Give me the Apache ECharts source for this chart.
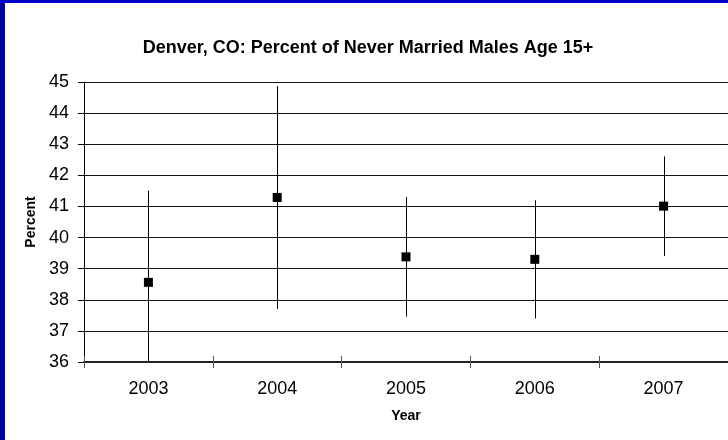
<!DOCTYPE html>
<html>
<head>
<meta charset="utf-8">
<script src="https://cdn.jsdelivr.net/npm/echarts@6/dist/echarts.min.js"></script>
<style>
  html, body { margin: 0; padding: 0; background: #fff; }
  #chart { width: 728px; height: 440px; }
</style>
</head>
<body>
<div id="chart"></div>
<script>
// Survey years and estimates with their margins of error
const years = ['2003', '2004', '2005', '2006', '2007'];
const percentNeverMarried = [38.56, 41.29, 39.38, 39.30, 41.01];
const marginOfError = [2.95, 3.58, 1.92, 1.90, 1.60];
const yTicks = [36, 37, 38, 39, 40, 41, 42, 43, 44, 45];

const FONT = '"Liberation Sans", Arial, sans-serif';

const errorData = years.map((y, i) => [
  i,
  percentNeverMarried[i] - marginOfError[i],
  percentNeverMarried[i] + marginOfError[i]
]);

const chart = echarts.init(document.getElementById('chart'), null, { renderer: 'canvas' });

const xAxisBase = {
  type: 'category',
  data: years,
  boundaryGap: true,
  position: 'bottom'
};

chart.setOption({
  animation: false,
  backgroundColor: '#ffffff',
  title: {
    text: 'Denver, CO: Percent of Never Married Males Age 15+',
    left: 363,
    top: 34,
    textAlign: 'center',
    textStyle: { fontFamily: FONT, fontWeight: 'bold', fontSize: 18, color: '#000' }
  },
  grid: { left: 84, top: 82, right: -3.5, bottom: 78, containLabel: false },
  xAxis: [
    Object.assign({}, xAxisBase, {
      axisLine: { show: true, lineStyle: { color: '#222', width: 2 } },
      axisTick: { show: true, inside: false, length: 6, lineStyle: { color: '#555', width: 1 } },
      axisLabel: { color: '#000', fontFamily: FONT, fontSize: 18, margin: 18 },
      name: 'Year',
      nameLocation: 'middle',
      nameGap: 47,
      nameTextStyle: { fontFamily: FONT, fontWeight: 'bold', fontSize: 14, color: '#000' },
      splitLine: { show: false }
    }),
    Object.assign({}, xAxisBase, {
      axisLine: { show: false },
      axisTick: { show: true, inside: true, length: 6, lineStyle: { color: '#555', width: 1 } },
      axisLabel: { show: false },
      splitLine: { show: false }
    })
  ],
  yAxis: {
    type: 'value',
    min: yTicks[0],
    max: yTicks[yTicks.length - 1],
    interval: 1,
    axisLine: { show: true, lineStyle: { color: '#000', width: 1 } },
    axisTick: { show: true, inside: false, length: 6, lineStyle: { color: '#000' } },
    axisLabel: { color: '#000', fontFamily: FONT, fontSize: 18, margin: 15 },
    splitLine: { show: true, lineStyle: { color: '#111', width: 1 } },
    name: 'Percent',
    nameLocation: 'middle',
    nameGap: 44,
    nameRotate: 90,
    nameTextStyle: { fontFamily: FONT, fontWeight: 'bold', fontSize: 14, color: '#000' }
  },
  graphic: [
    {
      type: 'rect', left: 0, top: 0, z: 100,
      shape: { width: 5, height: 440 },
      style: { fill: new echarts.graphic.LinearGradient(0, 0, 1, 0, [
        { offset: 0, color: '#000080' }, { offset: 1, color: '#0000d0' }
      ]) }
    },
    {
      type: 'rect', left: 0, top: 0, z: 100,
      shape: { width: 728, height: 3 },
      style: { fill: '#0000c8' }
    }
  ],
  series: [
    {
      type: 'custom',
      name: 'Margin of error',
      xAxisIndex: 0,
      clip: true,
      data: errorData,
      renderItem: function (params, api) {
        const x = api.value(0);
        const lo = api.coord([x, api.value(1)]);
        const hi = api.coord([x, api.value(2)]);
        const cs = params.coordSys;
        const yTop = Math.max(hi[1], cs.y);
        const yBot = Math.min(lo[1], cs.y + cs.height + 2);
        const px = Math.round(lo[0]) + 0.5;
        return {
          type: 'line',
          shape: { x1: px, y1: yTop, x2: px, y2: yBot },
          style: { stroke: '#000', lineWidth: 1 }
        };
      },
      z: 3
    },
    {
      type: 'scatter',
      name: 'Percent',
      xAxisIndex: 0,
      data: percentNeverMarried,
      symbol: 'rect',
      symbolSize: 9,
      itemStyle: { color: '#000', opacity: 1 },
      z: 4
    }
  ]
});
</script>
</body>
</html>
